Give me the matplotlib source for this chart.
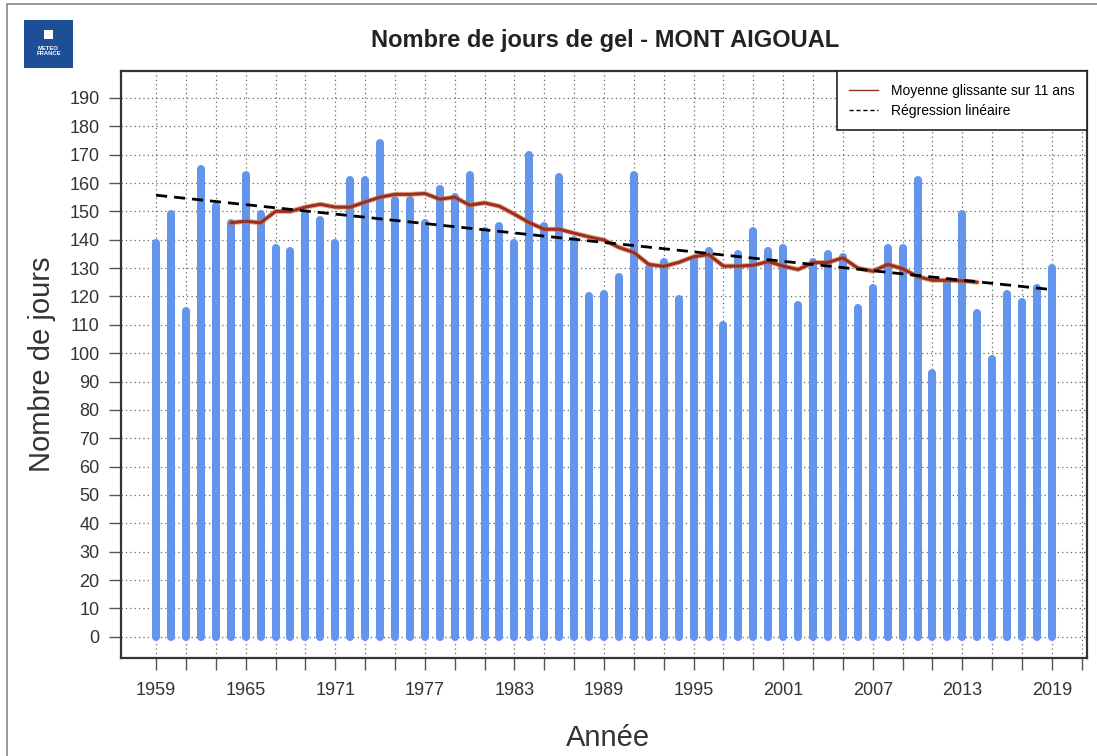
import numpy as np
import matplotlib
matplotlib.use('Agg')
import matplotlib.pyplot as plt
from matplotlib.lines import Line2D
from matplotlib.patches import Rectangle

# annual number of frost days, Mont Aigoual
years = np.arange(1959, 2020)
frost_days = [139, 149, 115, 165, 152, 146, 163, 149, 137, 136,
              149, 147, 139, 161, 161, 174, 154, 154, 146, 158,
              155, 163, 143, 145, 139, 170, 145, 162, 140, 120,
              121, 127, 163, 130, 132, 119, 133, 136, 110, 135,
              143, 136, 137, 117, 132, 135, 134, 116, 123, 137,
              137, 161, 93, 125, 149, 114, 98, 121, 118, 123,
              130]

# 11-year moving average (centred), 1964-2014
ma_years = np.arange(1964, 2015)
ma_values = [146.0, 146.5, 146.0, 150.0, 150.0, 151.5, 152.5, 151.5, 151.5, 153.3,
             155.0, 156.0, 156.0, 156.3, 154.3, 155.0, 152.2, 153.0, 151.8, 149.0,
             146.0, 143.7, 143.7, 142.3, 141.0, 139.9, 137.3, 135.5, 131.3, 130.6,
             132.0, 134.0, 134.8, 130.7, 130.7, 131.0, 132.3, 130.7, 129.5, 131.9,
             132.0, 133.6, 130.0, 128.9, 131.3, 129.8, 127.0, 125.7, 125.7, 125.5,
             125.0]

# linear regression end points
reg_years = [1959, 2019]
reg_values = [155.7, 122.4]

W, H = 1097, 756
fig = plt.figure(figsize=(W / 100, H / 100), dpi=100)
plt.rcParams['font.family'] = ['Liberation Sans', 'DejaVu Sans']

ax = fig.add_axes([121 / W, 1 - 658 / H, (1087 - 121) / W, (658 - 71) / H])

ax.set_xlim(1956.65, 2021.35)
ax.set_ylim(-7.5, 199.5)

xt = np.arange(1959, 2022, 2)
ax.set_xticks(xt)
ax.set_xticklabels([str(y) if (y - 1959) % 6 == 0 else '' for y in xt])
ax.set_yticks(np.arange(0, 200, 10))

ax.grid(True, color='#666666', linestyle=(0, (1, 2.5)), linewidth=0.9)
ax.set_axisbelow(True)

ax.vlines(years, 0, frost_days, color='#6495ED', linewidth=5.8,
          capstyle='round', zorder=3)

ax.plot(ma_years, ma_values, color='#d0703a', linewidth=3.6, alpha=0.6,
        solid_capstyle='round', zorder=4)
ax.plot(ma_years, ma_values, color='#9a2f22', linewidth=2.2,
        solid_capstyle='round', zorder=5)
ax.plot(reg_years, reg_values, color='black', linewidth=2.0,
        linestyle=(0, (4, 2.5)), zorder=6)

for s in ax.spines.values():
    s.set_color('#333333')
    s.set_linewidth(1.6)

ax.tick_params(axis='both', direction='out', length=8.5, width=1,
               color='#555555', labelcolor='#333333', labelsize=13)
ax.tick_params(axis='x', pad=9)
ax.tick_params(axis='y', pad=7)

handles = [Line2D([], [], color='#9a2f22', linewidth=1.0),
           Line2D([], [], color='black', linewidth=1.0, linestyle=(0, (3, 2)))]
leg = ax.legend(handles, ['Moyenne glissante sur 11 ans', 'Régression linéaire'],
                loc='upper right', borderaxespad=0, fontsize=10,
                fancybox=False, framealpha=1, edgecolor='#222222',
                handlelength=2.1, handletextpad=0.9, borderpad=0.9,
                labelspacing=0.45)
leg.get_frame().set_linewidth(1.2)
leg.set_zorder(10)

fig.text(605 / W, 1 - 40 / H, 'Nombre de jours de gel - MONT AIGOUAL',
         ha='center', va='center', fontsize=17, fontweight='bold', color='#222222')
fig.text(42 / W, 1 - 364 / H, 'Nombre de jours', rotation=90,
         ha='center', va='center', fontsize=21, color='#333333')
fig.text(608 / W, 1 - 738 / H, 'Année', ha='center', va='center',
         fontsize=21, color='#333333')

# Meteo-France logo
fig.patches.append(Rectangle((24 / W, 1 - 68 / H), 49 / W, 48 / H,
                             transform=fig.transFigure, facecolor='#1c4f95',
                             edgecolor='none'))
fig.patches.append(Rectangle((44 / W, 1 - 39 / H), 9 / W, 9 / H,
                             transform=fig.transFigure, facecolor='white',
                             edgecolor='none'))
fig.text(48.5 / W, 1 - 51 / H, 'METEO\nFRANCE', ha='center', va='center',
         fontsize=4.2, fontweight='bold', color='white', linespacing=1.0)

# outer frame of the picture
fig.lines.append(Line2D([7 / W, 7 / W, 1], [0, 1 - 4 / H, 1 - 4 / H],
                        transform=fig.transFigure, color='#888888', linewidth=1.2))

fig.savefig('out.png', dpi=100, facecolor='white')
